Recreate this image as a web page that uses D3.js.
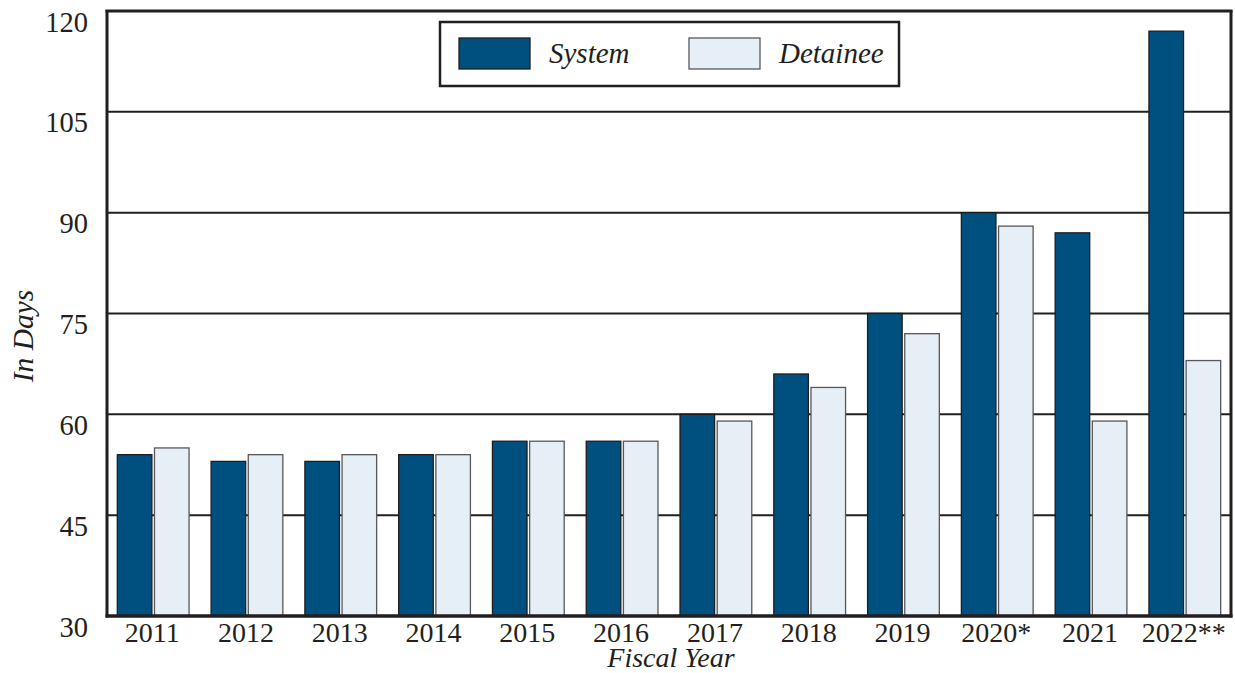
<!DOCTYPE html>
<html>
<head>
<meta charset="utf-8">
<script src="https://cdn.jsdelivr.net/npm/d3@7/dist/d3.min.js"></script>
<style>
  html, body { margin: 0; padding: 0; background: #fff; }
  svg { display: block; }
  text { font-family: "Liberation Serif", "DejaVu Serif", serif; fill: #231f20; }
</style>
</head>
<body>
<svg id="chart" width="1235" height="673"></svg>
<script>
// Average length of stay, in days, by fiscal year
const years = ["2011", "2012", "2013", "2014", "2015", "2016", "2017", "2018", "2019", "2020*", "2021", "2022**"];
const systemDays   = [54, 53, 53, 54, 56, 56, 60, 66, 75, 90, 87, 117];
const detaineeDays = [55, 54, 54, 54, 56, 56, 59, 64, 72, 88, 59, 68];
const seriesNames = ["System", "Detainee"];
const yTicks = [30, 45, 60, 75, 90, 105, 120];

const colors = { System: "#00507f", Detainee: "#e6eef6" };
const strokes = { System: "#1d1d1f", Detainee: "#58585a" };

const svg = d3.select("#chart");
const plot = { left: 107, right: 1231, top: 11, bottom: 616 };

const x = d3.scaleBand()
  .domain(years)
  .range([plot.left, plot.right])
  .paddingInner(0.235)
  .paddingOuter(0.11);

const xInner = d3.scaleBand()
  .domain(seriesNames)
  .range([0, x.bandwidth()])
  .paddingInner(0.07);

const y = d3.scaleLinear()
  .domain([30, 120])
  .range([plot.bottom, plot.top]);

// Horizontal gridlines
svg.append("g")
  .selectAll("line")
  .data(yTicks)
  .join("line")
  .attr("x1", plot.left)
  .attr("x2", plot.right)
  .attr("y1", d => y(d))
  .attr("y2", d => y(d))
  .attr("stroke", "#231f20")
  .attr("stroke-width", 2);

// Bars
const rows = years.map((yr, i) => ({ year: yr, System: systemDays[i], Detainee: detaineeDays[i] }));
const groups = svg.append("g")
  .selectAll("g")
  .data(rows)
  .join("g")
  .attr("transform", d => `translate(${x(d.year)},0)`);

groups.selectAll("rect")
  .data(d => seriesNames.map(k => ({ key: k, value: d[k] })))
  .join("rect")
  .attr("x", d => xInner(d.key))
  .attr("width", xInner.bandwidth())
  .attr("y", d => y(d.value))
  .attr("height", d => y(30) - y(d.value))
  .attr("fill", d => colors[d.key])
  .attr("stroke", d => strokes[d.key])
  .attr("stroke-width", 1.3);

// Frame
svg.append("line")
  .attr("x1", plot.left).attr("x2", plot.left)
  .attr("y1", plot.top - 1).attr("y2", plot.bottom + 1.5)
  .attr("stroke", "#231f20").attr("stroke-width", 3);
svg.append("line")
  .attr("x1", plot.right).attr("x2", plot.right)
  .attr("y1", plot.top - 1).attr("y2", plot.bottom + 1.5)
  .attr("stroke", "#231f20").attr("stroke-width", 3);
svg.append("line")
  .attr("x1", plot.left - 1.5).attr("x2", plot.right + 1.5)
  .attr("y1", plot.top).attr("y2", plot.top)
  .attr("stroke", "#231f20").attr("stroke-width", 3);
svg.append("line")
  .attr("x1", plot.left - 1.5).attr("x2", plot.right + 1.5)
  .attr("y1", plot.bottom).attr("y2", plot.bottom)
  .attr("stroke", "#231f20").attr("stroke-width", 3.5);

// Y axis labels (hang just below each gridline)
const yAxis = d3.axisLeft(y).tickValues(yTicks).tickSize(0).tickPadding(19);
const gy = svg.append("g")
  .attr("transform", `translate(${plot.left},0)`)
  .call(yAxis);
gy.select(".domain").remove();
gy.selectAll("text")
  .attr("dy", null)
  .attr("y", 20)
  .style("font-family", '"Liberation Serif", serif')
  .style("font-size", "28.5px")
  .attr("fill", "#231f20");

// X axis labels
const xAxis = d3.axisBottom(x).tickSize(0).tickPadding(0);
const gx = svg.append("g")
  .attr("transform", `translate(0,${plot.bottom})`)
  .call(xAxis);
gx.select(".domain").remove();
gx.selectAll("text")
  .attr("dy", null)
  .attr("y", 26)
  .attr("x", -1)
  .style("font-family", '"Liberation Serif", serif')
  .style("font-size", "28px")
  .attr("fill", "#231f20");

// Axis titles
svg.append("text")
  .attr("x", 671)
  .attr("y", 667)
  .attr("text-anchor", "middle")
  .style("font-style", "italic")
  .style("font-size", "28px")
  .text("Fiscal Year");

svg.append("text")
  .attr("transform", "translate(33,336) rotate(-90)")
  .attr("text-anchor", "middle")
  .style("font-style", "italic")
  .style("font-size", "29.5px")
  .text("In Days");

// Legend
const legend = svg.append("g");
legend.append("rect")
  .attr("x", 440).attr("y", 22)
  .attr("width", 459).attr("height", 64)
  .attr("fill", "#fff")
  .attr("stroke", "#231f20")
  .attr("stroke-width", 2.5);

const legendItems = [
  { key: "System", sx: 459, tx: 549 },
  { key: "Detainee", sx: 689, tx: 779 }
];
legendItems.forEach(it => {
  legend.append("rect")
    .attr("x", it.sx).attr("y", 38)
    .attr("width", 71).attr("height", 31)
    .attr("fill", colors[it.key])
    .attr("stroke", strokes[it.key])
    .attr("stroke-width", 1.3);
  legend.append("text")
    .attr("x", it.tx).attr("y", 63)
    .style("font-style", "italic")
    .style("font-size", "29px")
    .text(it.key);
});
</script>
</body>
</html>
